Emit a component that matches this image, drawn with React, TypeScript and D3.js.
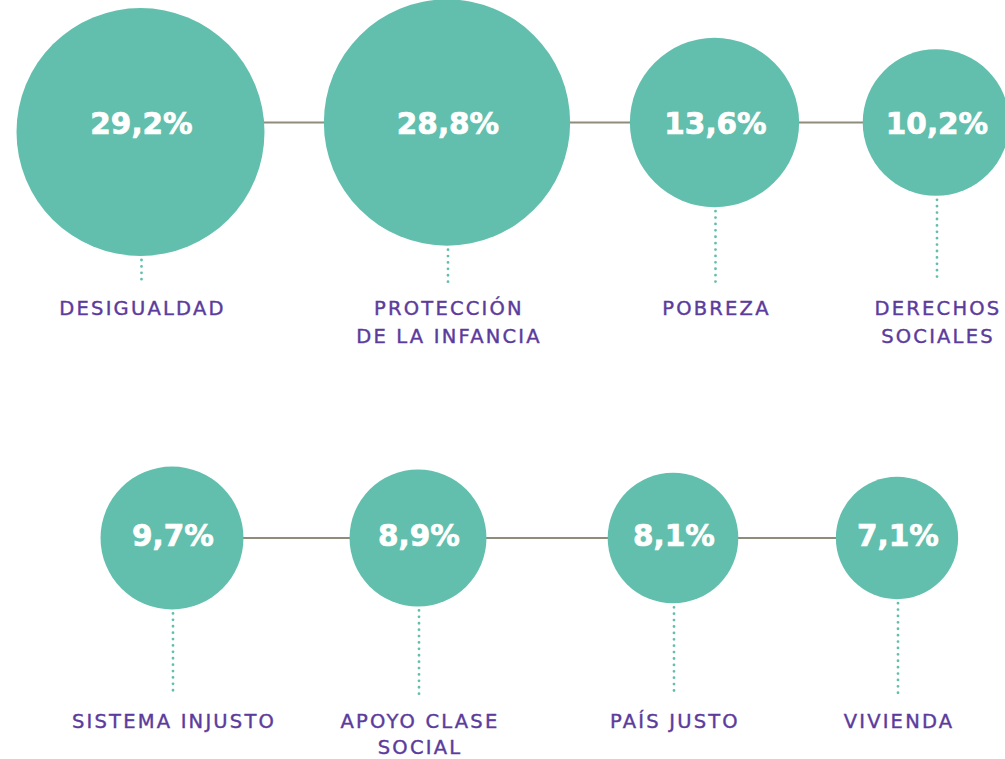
import React from "react";
import * as d3 from "d3";

// ---------- DATA ----------
const categories: string[] = [
  "Desigualdad",
  "Protección de la infancia",
  "Pobreza",
  "Derechos sociales",
  "Sistema injusto",
  "Apoyo clase social",
  "País justo",
  "Vivienda",
];
const labelLines: string[][] = [
  ["DESIGUALDAD"],
  ["PROTECCIÓN", "DE LA INFANCIA"],
  ["POBREZA"],
  ["DERECHOS", "SOCIALES"],
  ["SISTEMA INJUSTO"],
  ["APOYO CLASE", "SOCIAL"],
  ["PAÍS JUSTO"],
  ["VIVIENDA"],
];
const values: number[] = [29.2, 28.8, 13.6, 10.2, 9.7, 8.9, 8.1, 7.1];
const rows: number[] = [0, 0, 0, 0, 1, 1, 1, 1];

// ---------- LAYOUT ----------
const WIDTH = 1005;
const HEIGHT = 759;
const SLOT_X = [140.5, 447, 714.5, 936, 172, 418, 673, 897];
const SLOT_DY = [9.5, 0, 0, 0, 0, 0, 0, 0];
const ROW_LINE_Y = [122.5, 538];
const ROW_NUMBER_BASELINE = [134, 546];
const ROW_DOT_END = [282, 695];
const ROW_LABEL_BASELINE = [315, 728];
const ROW_LINE_HEIGHT = [27.5, 25.8];
const R_MAX = 124;

const TEAL = "#62bfad";
const PURPLE = "#5b3b9c";
const LINE_GRAY = "#8f8c7b";

const locale = d3.formatLocale({
  decimal: ",",
  thousands: ".",
  grouping: [3],
  currency: ["", "€"],
});
const fmt = (v: number) => locale.format(".1f")(v) + "%";

export default function App() {
  const r = d3
    .scaleSqrt()
    .domain([0, d3.max(values) as number])
    .range([0, R_MAX]);

  const items = values.map((v, i) => ({
    name: categories[i],
    lines: labelLines[i],
    value: v,
    row: rows[i],
    cx: SLOT_X[i],
    cy: ROW_LINE_Y[rows[i]] + SLOT_DY[i],
    r: r(v),
  }));

  const rowIds = [0, 1];

  return (
    <svg
      width={WIDTH}
      height={HEIGHT}
      viewBox={`0 0 ${WIDTH} ${HEIGHT}`}
      style={{ position: "absolute", left: 0, top: 0, background: "#ffffff" }}
    >
      {rowIds.map((row) => {
        const rs = items.filter((d) => d.row === row);
        const x0 = d3.min(rs, (d) => d.cx) as number;
        const x1 = d3.max(rs, (d) => d.cx) as number;
        return (
          <line
            key={"row" + row}
            x1={x0}
            x2={x1}
            y1={ROW_LINE_Y[row]}
            y2={ROW_LINE_Y[row]}
            stroke={LINE_GRAY}
            strokeWidth={2.2}
          />
        );
      })}
      {items.map((d) => (
        <g key={d.name}>
          <line
            x1={d.cx + 1}
            x2={d.cx + 1}
            y1={d.cy + d.r + 4}
            y2={ROW_DOT_END[d.row]}
            stroke={TEAL}
            strokeWidth={2.8}
            strokeLinecap="round"
            strokeDasharray="0 6.4"
          />
          <circle cx={d.cx} cy={d.cy} r={d.r} fill={TEAL} />
          <text
            x={d.cx + 1}
            y={ROW_NUMBER_BASELINE[d.row]}
            textAnchor="middle"
            fill="#ffffff"
            stroke="#ffffff"
            strokeWidth={0.7}
            fontFamily="'DejaVu Sans', sans-serif"
            fontWeight={700}
            fontSize={29.5}
          >
            {fmt(d.value)}
          </text>
          {d.lines.map((ln, j) => (
            <text
              key={j}
              x={d.cx + 2}
              y={ROW_LABEL_BASELINE[d.row] + j * ROW_LINE_HEIGHT[d.row]}
              textAnchor="middle"
              fill={PURPLE}
              stroke={PURPLE}
              strokeWidth={0.4}
              fontFamily="'DejaVu Sans', sans-serif"
              fontSize={19.5}
              letterSpacing={2.2}
            >
              {ln}
            </text>
          ))}
        </g>
      ))}
    </svg>
  );
}
